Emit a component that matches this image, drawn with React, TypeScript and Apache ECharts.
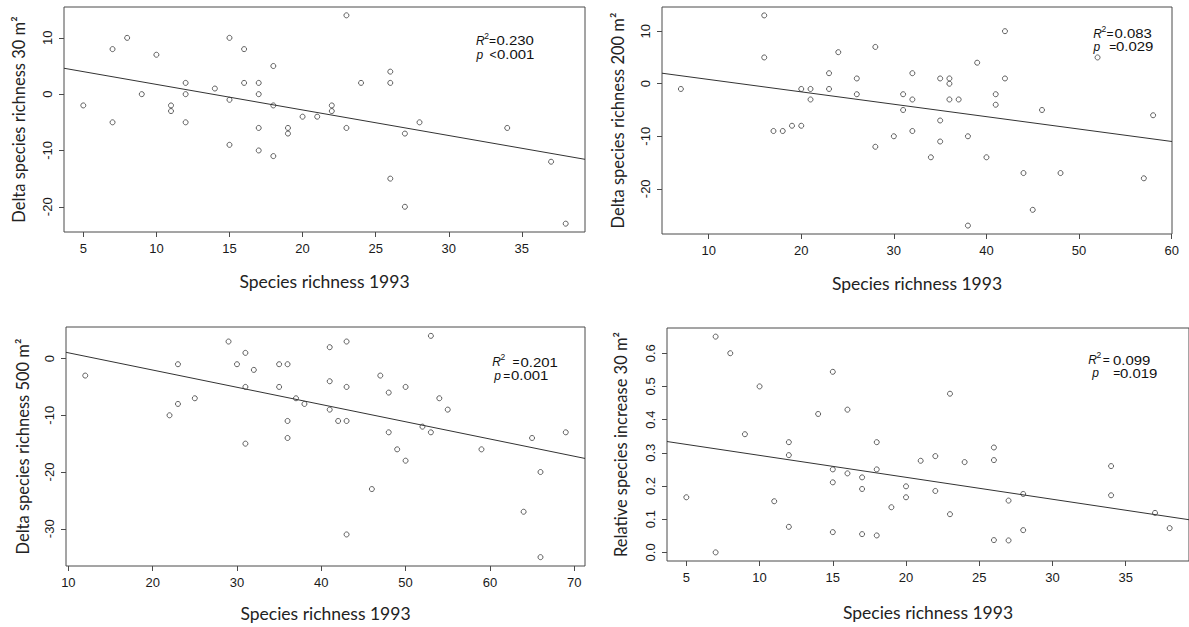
import React, { useEffect, useRef } from "react";
import * as echarts from "echarts";

// Panel 1: Delta species richness 30 m2
const p1X = [5, 7, 7, 8, 9, 10, 11, 11, 12, 12, 12, 14, 15, 15, 15, 16, 16, 17, 17, 17, 17, 18, 18, 18, 19, 19, 20, 21, 22, 22, 23, 23, 24, 26, 26, 26, 27, 27, 28, 34, 37, 38];
const p1Y = [-2, 8, -5, 10, 0, 7, -2, -3, 2, 0, -5, 1, 10, -1, -9, 8, 2, 2, 0, -6, -10, 5, -2, -11, -6, -7, -4, -4, -2, -3, 14, -6, 2, 4, 2, -15, -7, -20, -5, -6, -12, -23];

// Panel 2: Delta species richness 200 m2
const p2X = [7, 16, 16, 17, 18, 19, 20, 20, 21, 21, 23, 23, 24, 26, 26, 28, 28, 30, 31, 31, 32, 32, 32, 34, 35, 35, 35, 36, 36, 36, 37, 38, 38, 39, 40, 41, 41, 42, 42, 44, 45, 46, 48, 52, 57, 58];
const p2Y = [-1, 13, 5, -9, -9, -8, -1, -8, -1, -3, 2, -1, 6, 1, -2, 7, -12, -10, -2, -5, 2, -3, -9, -14, 1, -7, -11, 1, 0, -3, -3, -10, -27, 4, -14, -2, -4, 10, 1, -17, -24, -5, -17, 5, -18, -6];

// Panel 3: Delta species richness 500 m2
const p3X = [12, 22, 23, 23, 25, 29, 30, 31, 31, 31, 32, 35, 35, 36, 36, 36, 37, 38, 41, 41, 41, 42, 43, 43, 43, 43, 46, 47, 48, 48, 49, 50, 50, 52, 53, 53, 54, 55, 59, 64, 65, 66, 66, 69];
const p3Y = [-3, -10, -1, -8, -7, 3, -1, 1, -5, -15, -2, -1, -5, -1, -11, -14, -7, -8, 2, -4, -9, -11, 3, -5, -11, -31, -23, -3, -6, -13, -16, -5, -18, -12, 4, -13, -7, -9, -16, -27, -14, -20, -35, -13];

// Panel 4: Relative species increase 30 m2
const p4X = [5, 7, 7, 8, 9, 10, 11, 12, 12, 12, 14, 15, 15, 15, 15, 16, 16, 17, 17, 17, 18, 18, 18, 19, 20, 20, 21, 22, 22, 23, 23, 24, 26, 26, 26, 27, 27, 28, 28, 34, 34, 37, 38];
const p4Y = [0.166, 0.65, 0, 0.6, 0.356, 0.5, 0.154, 0.332, 0.293, 0.077, 0.417, 0.544, 0.25, 0.211, 0.061, 0.43, 0.238, 0.226, 0.191, 0.055, 0.332, 0.25, 0.051, 0.136, 0.199, 0.166, 0.276, 0.29, 0.185, 0.478, 0.115, 0.272, 0.316, 0.278, 0.037, 0.156, 0.036, 0.176, 0.067, 0.26, 0.172, 0.119, 0.073];

// Fitted regression lines (intercept, slope)
const fitIntercept = [6.27, 3.17, 4.05, 0.3583];
const fitSlope = [-0.4538, -0.236, -0.3038, -0.00661];

// Tick labels
const p1XTicks = [5, 10, 15, 20, 25, 30, 35];
const p1YTicks = [-20, -10, 0, 10];
const p2XTicks = [10, 20, 30, 40, 50, 60];
const p2YTicks = [-20, -10, 0, 10];
const p3XTicks = [10, 20, 30, 40, 50, 60, 70];
const p3YTicks = [-30, -20, -10, 0];
const p4XTicks = [5, 10, 15, 20, 25, 30, 35];
const p4YTicks = [0, 0.1, 0.2, 0.3, 0.4, 0.5, 0.6];

const xTitle = "Species richness 1993";
const yTitles = [
  "Delta species richness 30 m²",
  "Delta species richness 200 m²",
  "Delta species richness 500 m²",
  "Relative species increase 30 m²",
];
const r2Values = ["0.230", "0.083", "0.201", "0.099"];
const pSigns = ["<", "=", "=", "="];
const pValues = ["0.001", "0.029", "0.001", "0.019"];

function rRange(v: number[]) {
  const mn = Math.min(...v);
  const mx = Math.max(...v);
  const d = (mx - mn) * 0.04;
  return [mn - d, mx + d];
}

export default function App() {
  const ref = useRef<HTMLDivElement>(null);
  useEffect(() => {
    if (!ref.current) return;
    const chart = echarts.init(ref.current, undefined, { renderer: "svg" });

    const panels = [
      { x: p1X, y: p1Y, xt: p1XTicks, yt: p1YTicks, grid: { left: 64, top: 7, width: 521, height: 225 }, xGap: 40, yGap: 37, dec: 0,
        ann: { rx: 476, ry: 40.5, eq1: 489, v1: 496.5, px: 476.5, py: 54.5, eq2: 489.5, v2: 497 } },
      { x: p2X, y: p2Y, xt: p2XTicks, yt: p2YTicks, grid: { left: 662, top: 7, width: 510, height: 227 }, xGap: 40, yGap: 36, dec: 0,
        ann: { rx: 1093.3, ry: 33.5, eq1: 1106.5, v1: 1114.5, px: 1093.5, py: 46.5, eq2: 1109.3, v2: 1116 } },
      { x: p3X, y: p3Y, xt: p3XTicks, yt: p3YTicks, grid: { left: 66, top: 327, width: 519, height: 239 }, xGap: 38, yGap: 35, dec: 0,
        ann: { rx: 492.3, ry: 362.3, eq1: 512.5, v1: 520.5, px: 494.3, py: 375.7, eq2: 503.3, v2: 511 } },
      { x: p4X, y: p4Y, xt: p4XTicks, yt: p4YTicks, grid: { left: 667, top: 328, width: 525, height: 233 }, xGap: 42, yGap: 38, dec: 1,
        ann: { rx: 1088.3, ry: 360, eq1: 1102.7, v1: 1113, px: 1092.3, py: 373.3, eq2: 1113.3, v2: 1120 } },
    ];

    const tickFont = { fontFamily: "Liberation Sans, Arial, sans-serif", fontSize: 13, color: "#1a1a1a" };
    const xTitleFont = { fontFamily: "Lato, 'Open Sans', sans-serif", fontSize: 17.5, color: "#222" };
    const yTitleFont = { fontFamily: "Lato, 'Open Sans', sans-serif", fontSize: 16.5, color: "#222" };
    const frame = "#4a4a4a";

    const grids: any[] = [];
    const xAxes: any[] = [];
    const yAxes: any[] = [];
    const series: any[] = [];
    const graphic: any[] = [];

    panels.forEach((p, i) => {
      const [x0, x1] = rRange(p.x);
      const [y0, y1] = rRange(p.y);
      grids.push({ ...p.grid, show: true, borderColor: frame, borderWidth: 1, backgroundColor: "transparent" });
      xAxes.push({
        type: "value", gridIndex: i, min: x0, max: x1,
        axisLine: { show: false, onZero: false },
        axisTick: { show: true, inside: false, length: 5, lineStyle: { color: frame }, customValues: p.xt },
        axisLabel: { ...tickFont, margin: 10, customValues: p.xt, formatter: (v: number) => String(v) },
        splitLine: { show: false },
        name: xTitle, nameLocation: "middle", nameGap: p.xGap, nameTextStyle: xTitleFont,
      });
      yAxes.push({
        type: "value", gridIndex: i, min: y0, max: y1,
        axisLine: { show: false, onZero: false },
        axisTick: { show: true, inside: false, length: 5, lineStyle: { color: frame }, customValues: p.yt },
        axisLabel: { ...tickFont, margin: 10, rotate: 90, customValues: p.yt, formatter: (v: number) => v.toFixed(p.dec) },
        splitLine: { show: false },
        name: yTitles[i], nameLocation: "middle", nameGap: p.yGap, nameRotate: 90, nameTextStyle: yTitleFont,
      });
      series.push({
        type: "scatter", xAxisIndex: i, yAxisIndex: i,
        data: p.x.map((xv, k) => [xv, p.y[k]]),
        symbol: "circle", symbolSize: 5,
        itemStyle: { color: "rgba(0,0,0,0)", borderColor: "#3a3a3a", borderWidth: 1 },
      });
      const a = fitIntercept[i];
      const b = fitSlope[i];
      series.push({
        type: "line", xAxisIndex: i, yAxisIndex: i,
        data: [[x0, a + b * x0], [x1, a + b * x1]],
        symbol: "none", clip: true,
        lineStyle: { color: "#333", width: 1 },
      });
      const fam = "'Liberation Sans', Arial, sans-serif";
      const an = p.ann;
      const sx = 1.15;
      graphic.push(
        { type: "text", x: an.rx, y: an.ry, style: { text: "R", font: "italic 12px " + fam, fill: "#111", verticalAlign: "middle" } },
        { type: "text", x: an.rx + 8.3, y: an.ry - 5, style: { text: "2", font: "8.5px " + fam, fill: "#111", verticalAlign: "middle" } },
        { type: "text", x: an.eq1, y: an.ry, style: { text: "=", font: "12px " + fam, fill: "#111", verticalAlign: "middle" } },
        { type: "text", x: an.v1, y: an.ry, scaleX: sx, style: { text: r2Values[i], font: "13px " + fam, fill: "#111", verticalAlign: "middle" } },
        { type: "text", x: an.px, y: an.py, style: { text: "p", font: "italic 12px " + fam, fill: "#111", verticalAlign: "middle" } },
        { type: "text", x: an.eq2, y: an.py, style: { text: pSigns[i], font: "12px " + fam, fill: "#111", verticalAlign: "middle" } },
        { type: "text", x: an.v2, y: an.py, scaleX: sx, style: { text: pValues[i], font: "13px " + fam, fill: "#111", verticalAlign: "middle" } },
      );
    });

    chart.setOption({
      animation: false,
      backgroundColor: "#ffffff",
      grid: grids,
      xAxis: xAxes,
      yAxis: yAxes,
      series,
      graphic,
    });
    return () => chart.dispose();
  }, []);

  return (
    <div
      ref={ref}
      style={{ position: "absolute", left: 0, top: 0, width: 1189, height: 627, background: "#fff" }}
    />
  );
}
